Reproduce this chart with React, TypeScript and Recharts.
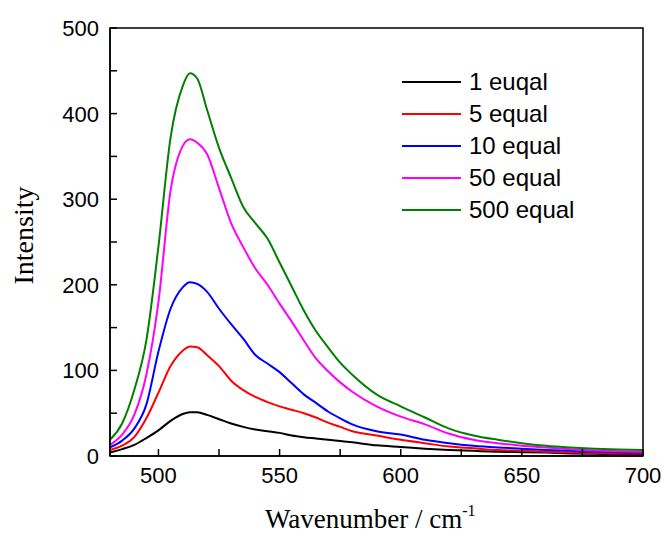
import React from "react";
import { LineChart, Line, XAxis, YAxis, Legend, ReferenceArea } from "recharts";

const wavenumber = [480, 485, 490, 495, 500, 505, 510, 513, 516, 520, 525, 530, 535, 540, 545, 550, 555, 560, 565, 570, 575, 580, 590, 600, 610, 620, 630, 640, 650, 660, 670, 680, 690, 700];
const s1 = [4, 8, 13, 21, 30, 41, 49, 51, 51, 48, 43, 38, 34, 31, 29, 27, 24, 22, 20.5, 19, 17.5, 16, 12.5, 10.5, 8.5, 7, 6, 5, 4.5, 4, 3, 2.5, 2, 2];
const s5 = [7, 12, 22, 44, 74, 105, 123, 128, 127, 118, 105, 88, 77, 69, 63, 58, 54, 50, 45, 39, 34, 29, 24, 19, 15, 11, 9, 7, 6, 5, 4, 3.5, 3, 3];
const s10 = [10, 18, 32, 60, 122, 172, 197, 203, 201, 192, 172, 154, 137, 118, 108, 98, 85, 72, 62, 52, 44, 37, 29, 25, 19, 15, 12, 10, 8.5, 7, 6, 5, 4.5, 4];
const s50 = [13, 25, 48, 95, 180, 310, 362, 370, 366, 353, 313, 272, 244, 219, 200, 178, 157, 135, 114, 99, 86, 75, 58, 46, 37, 26, 19, 15, 12, 10, 8, 6.5, 5.5, 5];
const s500 = [19, 38, 77, 135, 245, 372, 432, 447, 441, 405, 360, 325, 291, 272, 254, 226, 198, 170, 146, 127, 109, 95, 72, 58, 45, 32, 24, 19, 15, 12, 10, 8.5, 7.5, 7];

const seriesNames = ["1 euqal", "5 equal", "10 equal", "50 equal", "500 equal"];
const seriesColors = ["#000000", "#ff0000", "#0000ff", "#ff00ff", "#008000"];
const seriesValues = [s1, s5, s10, s50, s500];

const xTicks = [500, 525, 550, 575, 600, 625, 650, 675, 700];
const yTicks = [0, 50, 100, 150, 200, 250, 300, 350, 400, 450, 500];

const data = wavenumber.map((w, i) => {
  const row: Record<string, number> = { w };
  seriesValues.forEach((arr, k) => {
    row["s" + k] = arr[i];
  });
  return row;
});

const sansFont = "'Liberation Sans', Arial, sans-serif";
const serifFont = "'Liberation Serif', 'Times New Roman', serif";

const XTick = (props: any) => {
  const { x, y, payload } = props;
  const v = Number(payload.value);
  if (v % 50 !== 0) return <g />;
  return (
    <text x={x} y={y + 27} textAnchor="middle" fontFamily={sansFont} fontSize={22} fill="#000">
      {v}
    </text>
  );
};

const YTick = (props: any) => {
  const { x, y, payload } = props;
  const v = Number(payload.value);
  if (v % 100 !== 0) return <g />;
  return (
    <text x={x - 11} y={y + 8} textAnchor="end" fontFamily={sansFont} fontSize={22} fill="#000">
      {v}
    </text>
  );
};

const LegendContent = () => {
  return (
    <div style={{ fontFamily: sansFont, fontSize: 24, color: "#000" }}>
      {seriesNames.map((name, i) => (
        <div key={name} style={{ display: "flex", alignItems: "center", height: 32, lineHeight: "32px" }}>
          <span style={{ display: "inline-block", width: 59, height: 2, background: seriesColors[i] }} />
          <span style={{ marginLeft: 8, whiteSpace: "nowrap" }}>{name}</span>
        </div>
      ))}
    </div>
  );
};

export default function App() {
  return (
    <div style={{ position: "absolute", left: 0, top: 0, width: 664, height: 533, background: "#fff" }}>
      <LineChart width={664} height={533} data={data} margin={{ top: 28, right: 21, bottom: 0, left: 0 }}>
        <ReferenceArea x1={480} x2={700} y1={0} y2={500} fill="none" stroke="#000" strokeWidth={1.5} ifOverflow="visible" />
        <XAxis
          dataKey="w"
          type="number"
          domain={[480, 700]}
          ticks={xTicks}
          allowDataOverflow
          height={77}
          tickSize={-7}
          tickMargin={7}
          tickLine={{ stroke: "#000", strokeWidth: 1.5 }}
          axisLine={{ stroke: "#000", strokeWidth: 1.5 }}
          tick={<XTick />}
          interval={0}
        />
        <YAxis
          type="number"
          domain={[0, 500]}
          ticks={yTicks}
          allowDataOverflow
          width={110}
          tickSize={-7}
          tickMargin={7}
          tickLine={{ stroke: "#000", strokeWidth: 1.5 }}
          axisLine={{ stroke: "#000", strokeWidth: 1.5 }}
          tick={<YTick />}
          interval={0}
        />
        {seriesNames.map((name, k) => (
          <Line
            key={name}
            type="monotone"
            dataKey={"s" + k}
            name={name}
            stroke={seriesColors[k]}
            strokeWidth={2}
            dot={false}
            activeDot={false}
            isAnimationActive={false}
          />
        ))}
        <Legend
          content={<LegendContent />}
          layout="vertical"
          verticalAlign="middle"
          align="center"
          wrapperStyle={{ position: "absolute", left: 402, top: 65.5, width: 240, margin: 0 }}
        />
        <text
          x={33}
          y={235.5}
          transform="rotate(-90 33 235.5)"
          textAnchor="middle"
          fontFamily={serifFont}
          fontSize={28}
          fill="#000"
        >
          Intensity
        </text>
        <text x={265} y={528} textAnchor="start" fontFamily={serifFont} fontSize={27} fill="#000">
          Wavenumber / cm
          <tspan fontSize={16} dy={-12}>-1</tspan>
        </text>
      </LineChart>
    </div>
  );
}
